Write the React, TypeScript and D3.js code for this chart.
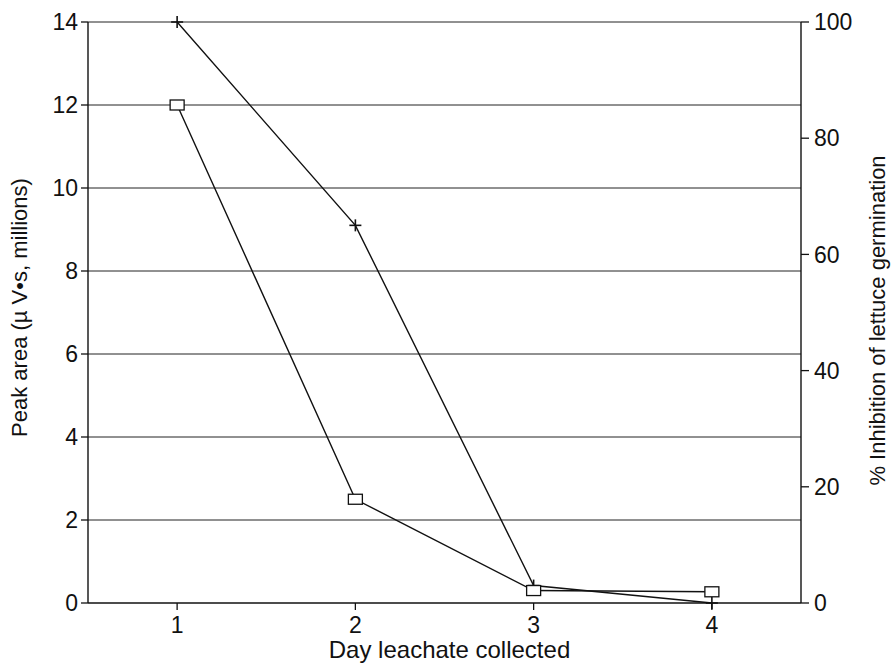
import * as d3 from "d3";

// Days on the x axis
const days = [1, 2, 3, 4];
// Peak area (µV·s, millions) — square markers, left axis
const peakArea = [12, 2.5, 0.3, 0.27];
// % inhibition of lettuce germination — plus markers, right axis
const inhibition = [100, 65, 3, 0];

const leftTicks = [0, 2, 4, 6, 8, 10, 12, 14];
const rightTicks = [0, 20, 40, 60, 80, 100];

const W = 894;
const H = 668;
const margin = { top: 22, right: 93, bottom: 65, left: 88 };
const FONT = "'Liberation Sans', Arial, Helvetica, sans-serif";

export default function App() {
  const innerW = W - margin.left - margin.right;
  const innerH = H - margin.top - margin.bottom;

  const x = d3.scaleLinear().domain([0.5, 4.5]).range([0, innerW]);
  const yL = d3.scaleLinear().domain([0, 14]).range([innerH, 0]);
  const yR = d3.scaleLinear().domain([0, 100]).range([innerH, 0]);

  const lineL = d3
    .line<number>()
    .x((_, i) => x(days[i]))
    .y((v) => yL(v));
  const lineR = d3
    .line<number>()
    .x((_, i) => x(days[i]))
    .y((v) => yR(v));

  const tick = 7;
  const fs = 23;

  return (
    <svg
      width={W}
      height={H}
      style={{ position: "absolute", left: 0, top: 0, background: "#fff" }}
      fontFamily={FONT}
    >
      <g transform={`translate(${margin.left},${margin.top})`}>
        {/* horizontal grid at left-axis ticks */}
        {leftTicks
          .filter((t) => t > 0)
          .map((t) => (
            <line
              key={"g" + t}
              x1={0}
              x2={innerW}
              y1={yL(t)}
              y2={yL(t)}
              stroke="#222"
              strokeWidth={1}
            />
          ))}

        {/* axes */}
        <line x1={0} x2={innerW} y1={innerH} y2={innerH} stroke="#111" strokeWidth={1.4} />
        <line x1={0} x2={0} y1={0} y2={innerH} stroke="#111" strokeWidth={1.4} />
        <line x1={innerW} x2={innerW} y1={0} y2={innerH} stroke="#111" strokeWidth={1.4} />

        {/* left ticks */}
        {leftTicks.map((t) => (
          <g key={"l" + t} transform={`translate(0,${yL(t)})`}>
            <line x1={-tick} x2={0} stroke="#111" strokeWidth={1.3} />
            <text x={-tick - 3} dy="0.36em" textAnchor="end" fontSize={fs} fill="#111">
              {t}
            </text>
          </g>
        ))}

        {/* right ticks */}
        {rightTicks.map((t) => (
          <g key={"r" + t} transform={`translate(${innerW},${yR(t)})`}>
            <line x1={0} x2={tick + 1} stroke="#111" strokeWidth={1.3} />
            <text x={tick + 6} dy="0.36em" textAnchor="start" fontSize={fs} fill="#111">
              {t}
            </text>
          </g>
        ))}

        {/* x ticks */}
        {days.map((d) => (
          <g key={"x" + d} transform={`translate(${x(d)},${innerH})`}>
            <line y1={0} y2={tick} stroke="#111" strokeWidth={1.3} />
            <text y={tick + 23} textAnchor="middle" fontSize={fs} fill="#111">
              {d}
            </text>
          </g>
        ))}

        {/* series lines */}
        <path d={lineR(inhibition) ?? ""} fill="none" stroke="#111" strokeWidth={1.4} />
        <path d={lineL(peakArea) ?? ""} fill="none" stroke="#111" strokeWidth={1.4} />

        {/* plus markers */}
        {inhibition.map((v, i) => (
          <g key={"p" + i} transform={`translate(${x(days[i])},${yR(v)})`}>
            <line x1={-6} x2={6} stroke="#111" strokeWidth={1.6} />
            <line y1={-6} y2={6} stroke="#111" strokeWidth={1.6} />
          </g>
        ))}

        {/* square markers */}
        {peakArea.map((v, i) => (
          <rect
            key={"s" + i}
            x={x(days[i]) - 7}
            y={yL(v) - 5}
            width={14}
            height={10}
            fill="#fff"
            stroke="#111"
            strokeWidth={1.3}
          />
        ))}

        {/* axis titles */}
        <text
          x={innerW / 2 + 5}
          y={innerH + 55}
          textAnchor="middle"
          fontSize={24}
          fill="#111"
        >
          Day leachate collected
        </text>
        <text
          transform={`translate(${-61},${innerH / 2 - 5}) rotate(-90)`}
          textAnchor="middle"
          fontSize={22}
          fill="#111"
        >
          Peak area (µ V•s, millions)
        </text>
        <text
          transform={`translate(${innerW + 84},${innerH / 2 + 8}) rotate(-90)`}
          textAnchor="middle"
          fontSize={22}
          fill="#111"
        >
          % Inhibition of lettuce germination
        </text>
      </g>
    </svg>
  );
}
